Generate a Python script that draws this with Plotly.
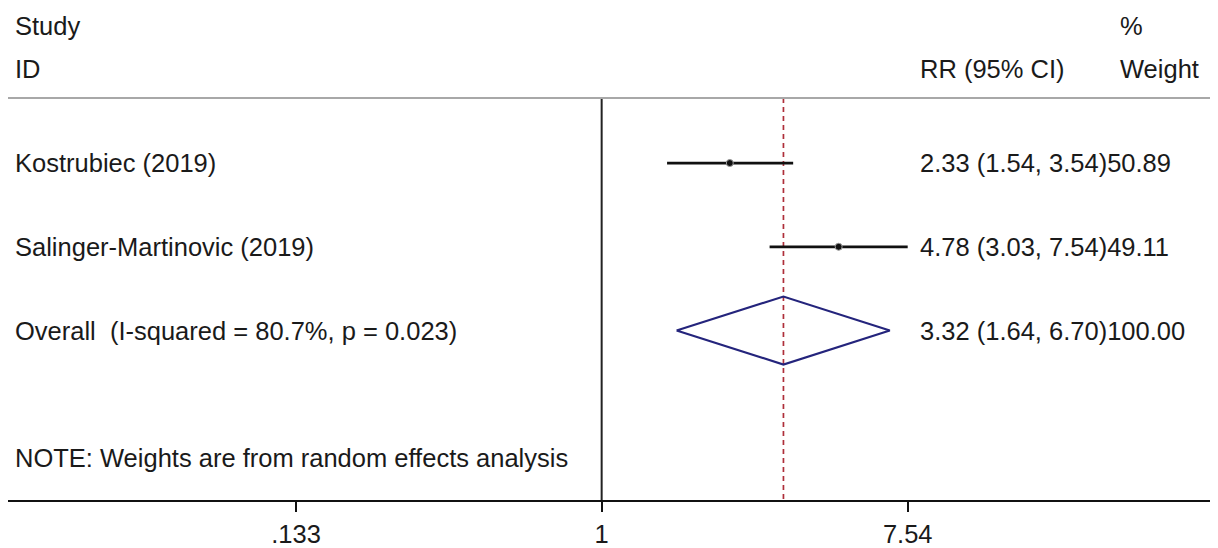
import plotly.graph_objects as go

# ---- data ----
studies = ["Kostrubiec (2019)", "Salinger-Martinovic (2019)"]
rr = [2.33, 4.78]
ci_low = [1.54, 3.03]
ci_high = [3.54, 7.54]
weights = ["50.89", "49.11"]

overall_label = "Overall\u00a0 (I-squared = 80.7%, p = 0.023)"
overall_rr = 3.32
overall_low = 1.64
overall_high = 6.70
overall_weight = "100.00"

note_text = "NOTE: Weights are from random effects analysis"
tick_vals = [0.133, 1, 7.54]
tick_text = [".133", "1", "7.54"]

FONT = "Liberation Sans, Arial, sans-serif"
FS = 25.5
TXT = "#1a1a1a"

# page body has an 8px margin: figure sits at (8, 8) in the 1218x548 window
OFF = 8
W, H = 1218 - OFF, 548 - OFF
ML, MR, MT, MB = 0, 0, 98 - OFF, 548 - 506
PW = W - ML - MR
PH = H - MT - MB

def px_x(p):  # screen pixel -> paper x
    return (p - OFF - ML) / PW

def px_y(p):  # screen pixel -> paper y
    return 1 + (MT + OFF - p) / PH

Y_TOP, Y_BOT = 0.2235, 5.0235
rows = [1, 2]
overall_row = 3
note_row = 4.518
half_h = 0.406

fig = go.Figure()

# null line at 1
fig.add_trace(go.Scatter(x=[1, 1], y=[Y_TOP, Y_BOT], mode="lines",
                         line=dict(color="#222222", width=2), hoverinfo="skip"))
# dashed overall line
fig.add_trace(go.Scatter(x=[overall_rr, overall_rr], y=[Y_TOP, Y_BOT], mode="lines",
                         line=dict(color="#ae2f3a", width=1.7, dash="5px,4px"), hoverinfo="skip"))

# study CIs
for i, r in enumerate(rows):
    fig.add_trace(go.Scatter(x=[ci_low[i], ci_high[i]], y=[r, r], mode="lines",
                             line=dict(color="#111111", width=2.7), hoverinfo="skip"))
    fig.add_trace(go.Scatter(x=[rr[i]], y=[r], mode="markers",
                             marker=dict(color="#111111", size=7, symbol="circle",
                                         line=dict(color="#9a9a9a", width=1)),
                             hoverinfo="skip"))

# overall diamond
fig.add_trace(go.Scatter(
    x=[overall_low, overall_rr, overall_high, overall_rr, overall_low],
    y=[overall_row, overall_row - half_h, overall_row, overall_row + half_h, overall_row],
    mode="lines", line=dict(color="#24247c", width=2.2), hoverinfo="skip"))

# header line
fig.add_shape(type="line", xref="paper", yref="paper", x0=0, x1=1, y0=1, y1=1,
              line=dict(color="#a8a8a8", width=2))

ann = []
def add_text(text, x, y, yref="paper"):
    ann.append(dict(text=text, x=x, y=y, xref="paper", yref=yref, xanchor="left",
                    yanchor="middle", showarrow=False,
                    font=dict(family=FONT, size=FS, color=TXT)))

add_text("Study", px_x(13), px_y(25))
add_text("ID", px_x(13), px_y(69))
add_text("RR (95% CI)", px_x(918), px_y(69))
add_text("%", px_x(1118), px_y(25))
add_text("Weight", px_x(1118), px_y(69))

for i, r in enumerate(rows):
    add_text(studies[i], px_x(13), r, yref="y")
    add_text(f"{rr[i]:.2f} ({ci_low[i]:.2f}, {ci_high[i]:.2f}){weights[i]}", px_x(918), r, yref="y")
add_text(overall_label, px_x(13), overall_row, yref="y")
add_text(f"{overall_rr:.2f} ({overall_low:.2f}, {overall_high:.2f}){overall_weight}", px_x(918), overall_row, yref="y")
add_text(note_text, px_x(13), note_row, yref="y")

fig.update_layout(
    width=W, height=H,
    margin=dict(l=ML, r=MR, t=MT, b=MB),
    paper_bgcolor="white", plot_bgcolor="white",
    showlegend=False,
    annotations=ann,
    font=dict(family=FONT, size=FS, color=TXT),
)
fig.update_xaxes(type="log", range=[-1.702, 1.767], tickvals=tick_vals, ticktext=tick_text,
                 ticks="outside", ticklen=10, tickwidth=2, tickcolor="#111111",
                 showline=True, linecolor="#111111", linewidth=2,
                 showgrid=False, zeroline=False, tickfont=dict(family=FONT, size=FS, color=TXT))
fig.update_yaxes(range=[Y_BOT, Y_TOP], showgrid=False, zeroline=False, showticklabels=False,
                 showline=False, ticks="")

fig.write_html("out.html")
